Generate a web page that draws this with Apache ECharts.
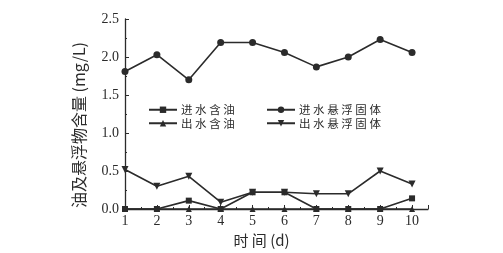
<!DOCTYPE html>
<html>
<head>
<meta charset="utf-8">
<script src="https://cdn.jsdelivr.net/npm/echarts@6/dist/echarts.min.js"></script>
<style>
html,body{margin:0;padding:0;background:#fff;}
#chart{width:503px;height:253px;}
</style>
</head>
<body>
<div id="chart"></div>
<script>
// Days of measurement
const days = [1, 2, 3, 4, 5, 6, 7, 8, 9, 10];
// Oil content and suspended solids (mg/L)
const inOil = [0, 0, 0.11, 0, 0.22, 0.22, 0, 0, 0, 0.14];
const outOil = [0, 0, 0, 0, 0, 0, 0, 0, 0, 0];
const inSS = [1.81, 2.03, 1.70, 2.19, 2.19, 2.06, 1.87, 2.00, 2.23, 2.06];
const outSS = [0.52, 0.30, 0.43, 0.09, 0.22, 0.22, 0.20, 0.20, 0.50, 0.33];
const seriesNames = ['进水含油', '出水含油', '进水悬浮固体', '出水悬浮固体'];
const yTicks = ['0.0', '0.5', '1.0', '1.5', '2.0', '2.5'];

const ink = '#2b2b2b';
const serif = '"Liberation Serif", "DejaVu Serif", serif';
const cjk = '"Noto Sans CJK SC", sans-serif';

function pairs(vals) { return days.map((d, i) => [d, vals[i]]); }

function lineSeries(name, vals, symbol, size, rotate) {
  return {
    name: name,
    type: 'line',
    data: pairs(vals),
    symbol: symbol,
    symbolSize: size,
    symbolRotate: rotate || 0,
    lineStyle: { color: ink, width: 1.6 },
    itemStyle: { color: ink },
    animation: false
  };
}

const legendText = { fontFamily: cjk, fontSize: 11.5, color: ink, padding: [0, 0, 0, -1] };
const spaced = n => n.split('').join(' ');

const chart = echarts.init(document.getElementById('chart'));
chart.setOption({
  backgroundColor: '#fff',
  grid: { left: 125, right: 75, top: 19, bottom: 43 },
  legend: [
    {
      data: [seriesNames[0], seriesNames[1]],
      orient: 'vertical', left: 143, top: 99, itemGap: 2,
      itemWidth: 28, itemHeight: 8,
      textStyle: legendText, formatter: spaced
    },
    {
      data: [seriesNames[2], seriesNames[3]],
      orient: 'vertical', left: 261, top: 99, itemGap: 2,
      itemWidth: 28, itemHeight: 8,
      textStyle: legendText, formatter: spaced
    }
  ],
  xAxis: {
    type: 'value', min: 1, max: 10.5, interval: 1,
    name: '时 间 (d)', nameLocation: 'middle', nameGap: 24,
    nameTextStyle: { fontFamily: cjk, fontSize: 15, color: ink, padding: [0, 30, 0, 0] },
    axisLine: { lineStyle: { color: ink, width: 1.3 } },
    axisTick: { inside: true, length: 4, lineStyle: { color: ink } },
    minorTick: { show: true, splitNumber: 2, length: 2, lineStyle: { color: ink } },
    axisLabel: {
      fontFamily: serif, fontSize: 14, color: ink, margin: 5,
      formatter: v => (Number.isInteger(v) && v <= 10 ? String(v) : '')
    },
    splitLine: { show: false }
  },
  yAxis: {
    type: 'value', min: 0, max: 2.5, interval: 0.5,
    name: '油及悬浮物含量 (mg/L)', nameLocation: 'middle', nameGap: 38,
    nameTextStyle: { fontFamily: cjk, fontSize: 16, color: ink, padding: [0, 22, 0, 0] },
    axisLine: { show: true, lineStyle: { color: ink, width: 1.3 } },
    axisTick: { show: true, inside: true, length: 4, lineStyle: { color: ink } },
    minorTick: { show: true, splitNumber: 2, length: 2, lineStyle: { color: ink } },
    axisLabel: {
      fontFamily: serif, fontSize: 14, color: ink, margin: 6,
      formatter: v => yTicks[Math.round(v / 0.5)]
    },
    splitLine: { show: false }
  },
  series: [
    lineSeries(seriesNames[0], inOil, 'rect', 6),
    lineSeries(seriesNames[1], outOil, 'triangle', 6),
    lineSeries(seriesNames[2], inSS, 'circle', 7),
    lineSeries(seriesNames[3], outSS, 'triangle', 7, 180)
  ]
});
</script>
</body>
</html>
